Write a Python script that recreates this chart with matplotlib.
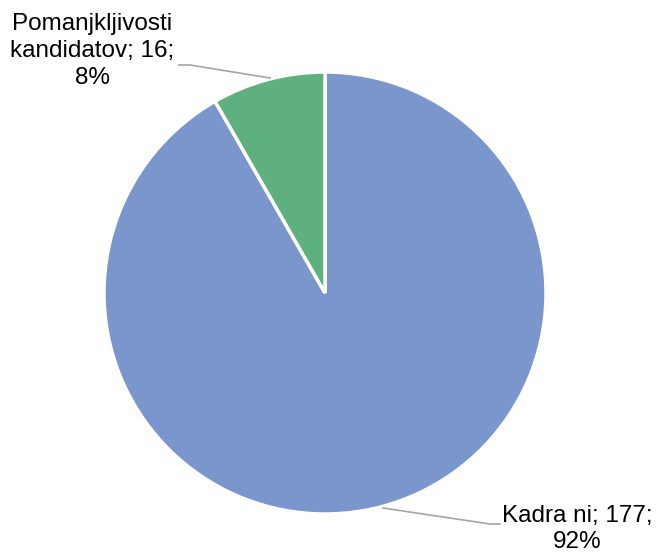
import matplotlib
matplotlib.use("Agg")
import matplotlib.pyplot as plt

categories = ["Kadra ni", "Pomanjkljivosti kandidatov"]
values = [177, 16]
percents = ["92%", "8%"]
colors = ["#7A96CC", "#5FB07F"]

W, H = 659, 554
fig = plt.figure(figsize=(W / 100, H / 100), dpi=100)
ax = fig.add_axes([0, 0, 1, 1])

cx, cy, r = 325, H - 293, 221
ax.pie(values, colors=colors, startangle=90, counterclock=False,
       center=(cx, cy), radius=r, frame=True,
       wedgeprops=dict(edgecolor="white", linewidth=2.5))
ax.set_xlim(0, W)
ax.set_ylim(0, H)
ax.set_aspect("equal")
ax.axis("off")

font = dict(family=["Liberation Sans", "DejaVu Sans"], fontsize=17.5, color="#000000")

# label 2 (top-left)
ax.text(92, H - 51, "Pomanjkljivosti\nkandidatov; %d;\n%s" % (values[1], percents[1]),
        ha="center", va="center", linespacing=1.3, **font)
ax.plot([179, 190, 270], [H - 65, H - 65, H - 78], color="#A6A6A6", lw=1.2)

# label 1 (bottom-right)
ax.text(577, H - 529, "%s; %d;\n%s" % (categories[0], values[0], percents[0]),
        ha="center", va="center", linespacing=1.22, **font)
ax.plot([383, 490, 500], [H - 508, H - 524, H - 524], color="#A6A6A6", lw=1.2)

fig.savefig("out.png", dpi=100)
